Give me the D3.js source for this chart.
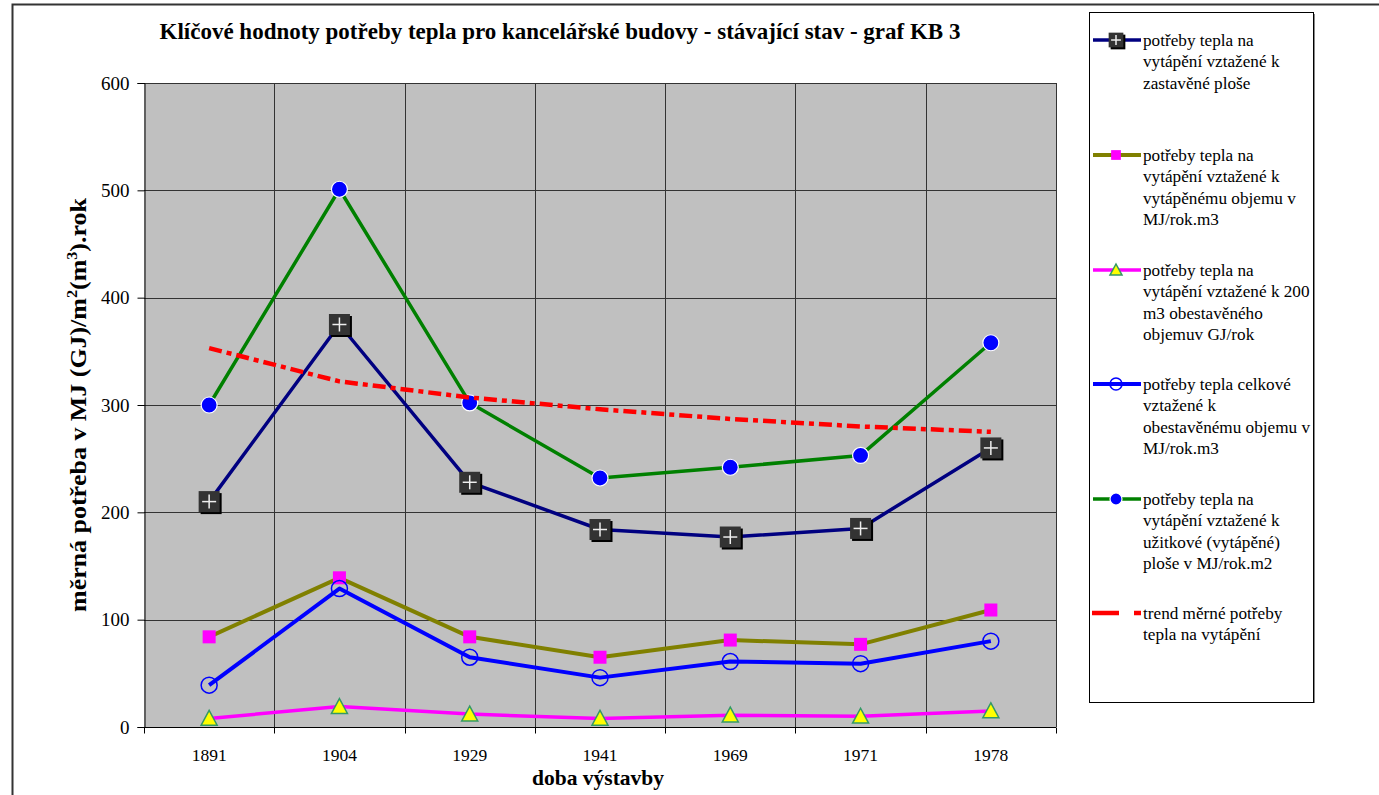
<!DOCTYPE html>
<html>
<head>
<meta charset="utf-8">
<script src="https://cdn.jsdelivr.net/npm/d3@7"></script>
<style>
  html, body { margin: 0; padding: 0; background: #fff; }
  svg { display: block; }
  text { font-family: "Liberation Serif", "DejaVu Serif", serif; fill: #000; }
</style>
</head>
<body>
<svg id="chart" width="1379" height="795"></svg>
<script>
// Construction periods (categories on the x axis)
const years = ["1891", "1904", "1929", "1941", "1969", "1971", "1978"];

// Heat demand per built-up area
const builtArea = [210, 375, 228, 184, 177, 185, 260];
// Heat demand per heated volume, MJ/rok.m3
const heatedVolume = [84, 139, 84, 65, 81, 77, 109];
// Heat demand per 200 m3 of enclosed volume, GJ/rok
const per200m3 = [8, 19, 12, 8, 11, 10, 15];
// Total heat demand per enclosed volume, MJ/rok.m3
const totalVolume = [39, 129, 65, 46, 61, 59, 80];
// Heat demand per usable (heated) floor area, MJ/rok.m2
const usableArea = [300, 501, 302, 232, 242, 253, 358];
// Trend of specific heat demand
const trend = [353, 322, 307, 296, 287, 280, 275];

const yTicks = [0, 100, 200, 300, 400, 500, 600];

const title = "Klíčové hodnoty potřeby tepla pro kancelářské budovy - stávající stav - graf KB 3";

const FONT = "'Liberation Serif', 'DejaVu Serif', serif";
const svg = d3.select("#chart");

// Resize a text element's font so its rendered width equals the given width
function fitWidth(sel, baseSize, width) {
  sel.style("font-size", baseSize + "px");
  const w = sel.node().getComputedTextLength();
  sel.style("font-size", (baseSize * width / w).toFixed(2) + "px");
}

// Outer chart frame
svg.append("rect")
  .attr("x", 12.5).attr("y", 4.5)
  .attr("width", 1400).attr("height", 820)
  .attr("fill", "#fff").attr("stroke", "#333").attr("stroke-width", 2);

const plot = { left: 144, right: 1056, top: 83, bottom: 727 };

const x = d3.scaleBand().domain(years).range([plot.left, plot.right]).padding(0);
const y = d3.scaleLinear().domain([0, 600]).range([plot.bottom, plot.top]);
const cx = d => x(d) + x.bandwidth() / 2;

// Plot background
svg.append("rect")
  .attr("x", plot.left).attr("y", plot.top)
  .attr("width", plot.right - plot.left).attr("height", plot.bottom - plot.top)
  .attr("fill", "#c0c0c0");

// Grid
const grid = svg.append("g").attr("stroke", "#333").attr("stroke-width", 1);
grid.selectAll("line.h").data(yTicks).join("line")
  .attr("x1", plot.left).attr("x2", plot.right)
  .attr("y1", d => Math.round(y(d)) + 0.5).attr("y2", d => Math.round(y(d)) + 0.5);
const edges = years.map(d => x(d)).concat([plot.right]);
grid.selectAll("line.v").data(edges.slice(1)).join("line")
  .attr("x1", d => Math.round(d) + 0.5).attr("x2", d => Math.round(d) + 0.5)
  .attr("y1", plot.top).attr("y2", plot.bottom);

// Y axis
const yAxis = d3.axisLeft(y).tickValues(yTicks).tickSize(7).tickPadding(8);
const gy = svg.append("g").attr("transform", `translate(${plot.left + 0.5},0)`).call(yAxis);
gy.attr("font-family", FONT);
gy.select(".domain").attr("stroke", "#000");
gy.selectAll(".tick line").attr("stroke", "#000");
gy.selectAll(".tick text")
  .style("font-family", FONT).style("font-size", "19px").attr("fill", "#000").attr("dy", "0.33em");

// X axis: ticks at band edges, labels at band centres
const gx = svg.append("g").attr("transform", `translate(0,${plot.bottom + 0.5})`);
gx.append("line").attr("x1", plot.left).attr("x2", plot.right).attr("stroke", "#000");
gx.selectAll("line.t").data(edges).join("line")
  .attr("x1", d => Math.round(d) + 0.5).attr("x2", d => Math.round(d) + 0.5)
  .attr("y1", 0).attr("y2", 6).attr("stroke", "#000");
gx.selectAll("text").data(years).join("text")
  .attr("x", d => cx(d)).attr("y", 33)
  .attr("text-anchor", "middle").style("font-size", "17.5px")
  .text(d => d);

// Title
const titleText = svg.append("text")
  .attr("x", 560).attr("y", 39)
  .attr("text-anchor", "middle")
  .style("font-weight", "bold")
  .text(title);
fitWidth(titleText, 20, 801);

// X axis title
svg.append("text")
  .attr("x", 598).attr("y", 785)
  .attr("text-anchor", "middle")
  .style("font-size", "21.5px").style("font-weight", "bold")
  .text("doba výstavby");

// Y axis title (narrow, tall glyphs)
const yl = svg.append("g").attr("transform", "translate(86,405) rotate(-90)");
const ylText = yl.append("text").attr("text-anchor", "middle")
  .style("font-size", "24px").style("font-weight", "bold");
ylText.append("tspan").text("měrná potřeba v MJ (GJ)/m");
ylText.append("tspan").attr("dy", -9).style("font-size", "15px").text("2");
ylText.append("tspan").attr("dy", 9).text("(m");
ylText.append("tspan").attr("dy", -9).style("font-size", "15px").text("3");
ylText.append("tspan").attr("dy", 9).text(").rok");
const natural = ylText.node().getComputedTextLength();
ylText.attr("transform", `scale(${414 / natural},1)`);

// Series definitions
const series = [
  { name: "builtArea", values: builtArea, color: "#000080", width: 3.5, marker: "plusSquare",
    label: ["potřeby tepla na", "vytápění vztažené k", "zastavěné ploše"] },
  { name: "heatedVolume", values: heatedVolume, color: "#808000", width: 4, marker: "square",
    label: ["potřeby tepla na", "vytápění vztažené k", "vytápěnému objemu v", "MJ/rok.m3"] },
  { name: "per200m3", values: per200m3, color: "#ff00ff", width: 3.5, marker: "triangle",
    label: ["potřeby tepla na", "vytápění vztažené k 200", "m3 obestavěného", "objemuv GJ/rok"] },
  { name: "totalVolume", values: totalVolume, color: "#0000ff", width: 4, marker: "hollowCircle",
    label: ["potřeby tepla celkové", "vztažené k", "obestavěnému objemu v", "MJ/rok.m3"] },
  { name: "usableArea", values: usableArea, color: "#008000", width: 3.5, marker: "dot",
    label: ["potřeby tepla na", "vytápění vztažené k", "užitkové (vytápěné)", "ploše v MJ/rok.m2"] },
  { name: "trend", values: trend, color: "#ff0000", width: 4.5, marker: null, dash: "13,5,5,5",
    label: ["trend měrné potřeby", "tepla na vytápění"] }
];

function drawMarker(g, type, px, py, scale) {
  const s = scale || 1;
  if (type === "plusSquare") {
    const h = 10.5 * s;
    g.append("rect").attr("x", px - h + 2).attr("y", py - h + 2).attr("width", 2 * h).attr("height", 2 * h).attr("fill", "#000");
    g.append("rect").attr("x", px - h).attr("y", py - h).attr("width", 2 * h).attr("height", 2 * h).attr("fill", "#333");
    const c = 7 * s;
    g.append("line").attr("x1", px - c).attr("x2", px + c).attr("y1", py).attr("y2", py).attr("stroke", "#eee").attr("stroke-width", 1.5);
    g.append("line").attr("x1", px).attr("x2", px).attr("y1", py - c).attr("y2", py + c).attr("stroke", "#eee").attr("stroke-width", 1.5);
  } else if (type === "square") {
    const h = 6.5 * s;
    g.append("rect").attr("x", px - h).attr("y", py - h).attr("width", 2 * h).attr("height", 2 * h).attr("fill", "#ff00ff");
  } else if (type === "triangle") {
    const h = 8 * s;
    g.append("path")
      .attr("d", `M${px},${py - h}L${px + h},${py + h * 0.85}L${px - h},${py + h * 0.85}Z`)
      .attr("fill", "#ffff00").attr("stroke", "#339966").attr("stroke-width", 1.5);
  } else if (type === "hollowCircle") {
    g.append("circle").attr("cx", px).attr("cy", py).attr("r", 8 * s)
      .attr("fill", "none").attr("stroke", "#0000ff").attr("stroke-width", 1.5);
  } else if (type === "dot") {
    g.append("circle").attr("cx", px).attr("cy", py).attr("r", 8 * s)
      .attr("fill", "#0000ff").attr("stroke", "#fff").attr("stroke-width", 1.2);
  }
}

const line = d3.line().x(d => cx(d.year)).y(d => y(d.value));

// Lines and markers
series.forEach(s => {
  const pts = years.map((yr, i) => ({ year: yr, value: s.values[i] }));
  const g = svg.append("g").attr("class", "series " + s.name);
  g.append("path").datum(pts)
    .attr("d", line)
    .attr("fill", "none")
    .attr("stroke", s.color)
    .attr("stroke-width", s.width)
    .attr("stroke-dasharray", s.dash || null)
    .attr("stroke-linejoin", "round");
  if (s.marker) {
    pts.forEach(p => drawMarker(g, s.marker, cx(p.year), y(p.value)));
  }
});

// Legend
const legend = svg.append("g");
legend.append("rect")
  .attr("x", 1089.5).attr("y", 12.5).attr("width", 224).attr("height", 690)
  .attr("fill", "#fff").attr("stroke", "#000").attr("stroke-width", 1);
legend.append("line").attr("x1", 1314.5).attr("x2", 1314.5).attr("y1", 14).attr("y2", 703)
  .attr("stroke", "#888").attr("stroke-width", 1);

const entryY = [40, 155, 270, 384, 499, 613];
series.forEach((s, i) => {
  const ly = entryY[i];
  const g = legend.append("g");
  if (s.marker) {
    g.append("line").attr("x1", 1093).attr("x2", 1141).attr("y1", ly).attr("y2", ly)
      .attr("stroke", s.color).attr("stroke-width", s.width);
    drawMarker(g, s.marker, 1116, ly, s.marker === "plusSquare" ? 0.7 : 0.75);
  } else {
    g.append("line").attr("x1", 1092).attr("x2", 1119).attr("y1", ly).attr("y2", ly)
      .attr("stroke", s.color).attr("stroke-width", s.width);
    g.append("line").attr("x1", 1134).attr("x2", 1141).attr("y1", ly).attr("y2", ly)
      .attr("stroke", s.color).attr("stroke-width", s.width);
  }
  const t = g.append("text").style("font-size", "17.2px");
  s.label.forEach((ln, j) => {
    t.append("tspan").attr("x", 1143).attr("y", ly + 6 + j * 21.3).text(ln);
  });
});
</script>
</body>
</html>
